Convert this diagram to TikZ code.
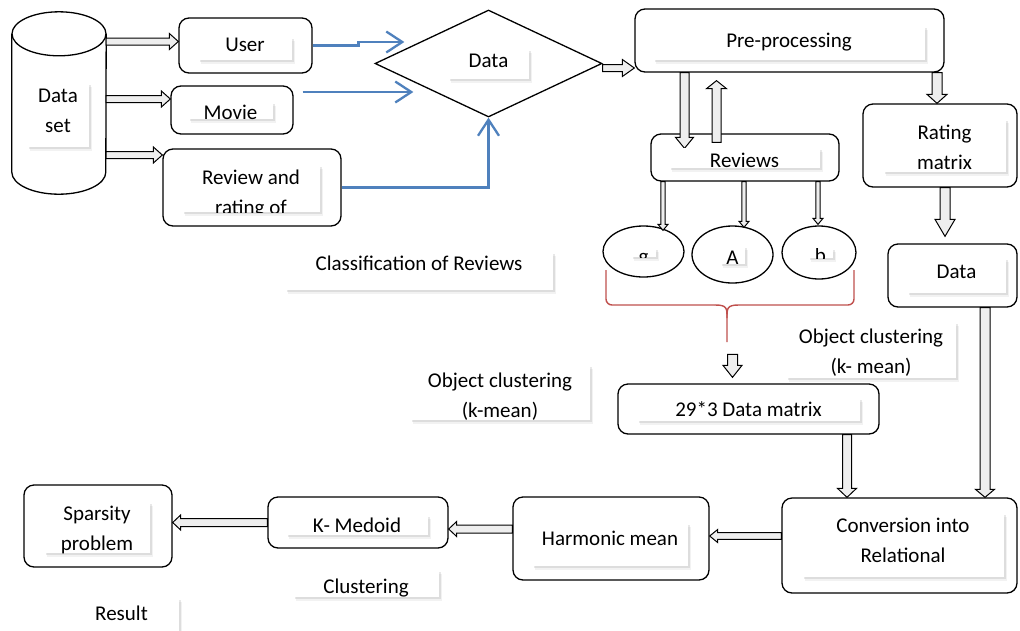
\documentclass[tikz,border=0pt]{standalone}
\usepackage{fontspec}
\setmainfont{Carlito}
\usetikzlibrary{shapes.geometric,shadows,calc,arrows.meta}
\definecolor{wblue}{RGB}{79,129,189}
\definecolor{wred}{RGB}{192,80,77}
\definecolor{afill}{RGB}{238,238,238}
\tikzset{
 box/.style={draw, line width=1.3pt, rounded corners=10pt, fill=white, inner sep=0pt},
 lbl/.style={fill=white, inner sep=0pt,
   drop shadow={shadow xshift=3pt, shadow yshift=-3.5pt, opacity=0.10},
   drop shadow={shadow xshift=1.5pt, shadow yshift=-2pt, opacity=0.18}},
 txt/.style={font=\fontsize{21}{30}\selectfont, inner sep=0pt},
 txtone/.style={txt, text height=14pt, text depth=4pt},
 txtm/.style={txt, align=center},
 blk/.style={draw, line width=1pt, fill=afill, line join=miter},
 bluearr/.style={draw=wblue, line width=2.3pt, -{Straight Barb[length=16pt, width=21pt, line width=2.3pt]}},
 redbrace/.style={draw=wred, line width=1.4pt},
 oval/.style={draw, ellipse, line width=1.3pt, inner sep=0pt, fill=white},
 cylstyle/.style={draw, line width=1.3pt, fill=white},
}
% block arrow: shaft half width, head half width, head length, start, end
\newcommand\barrow[5]{%
 \coordinate (baS) at (#4); \coordinate (baE) at (#5);
 \coordinate (baH) at ($(baE)!#3!(baS)$);
 \draw[blk] ($(baS)!#1!90:(baE)$) -- ($(baH)!#1!-90:(baS)$) -- ($(baH)!#2!-90:(baS)$) -- (baE) -- ($(baH)!#2!90:(baS)$) -- ($(baH)!#1!90:(baS)$) -- ($(baS)!#1!-90:(baE)$) -- cycle;}
% label box with shadow; text clipped to the box
\newcommand\lbox[7][txtone]{%
 \node[lbl, minimum width=#4, minimum height=#5, path picture={\node[#1] at ([yshift=#6]path picture bounding box.center) {#7};}] (#2) at (#3) {};}
\begin{document}
\begin{tikzpicture}[x=1pt,y=-1pt]
\fill[white] (0,0) rectangle (1020,630);
\useasboundingbox (0,0) rectangle (1020,630);

% cylinder
\node[minimum width=94pt, minimum height=182pt, inner sep=0pt] (dset) at (59,103) {};
\draw[cylstyle] ([yshift=-22pt]dset.north west) -- ([yshift=22pt]dset.south west) arc[start angle=180, end angle=360, x radius=47pt, y radius=22pt] -- ([yshift=-22pt]dset.north east);
\draw[cylstyle] ([yshift=-22pt]dset.north) ellipse [x radius=47pt, y radius=22pt];

% boxes
\node[box, minimum width=133pt, minimum height=55pt] (user) at (245.5,45.5) {};
\node[box, minimum width=122pt, minimum height=48pt] (movie) at (232,110) {};
\node[box, minimum width=178pt, minimum height=77pt] (review) at (252,187.5) {};
\node[draw, diamond, line width=1.3pt, minimum width=227pt, minimum height=107pt, inner sep=0pt, fill=white] (dia) at (488.5,63.5) {};
\node[box, minimum width=309pt, minimum height=63pt] (pre) at (789.5,40.5) {};
\node[box, minimum width=188pt, minimum height=47pt] (reviews) at (745,157.5) {};
\node[box, minimum width=154pt, minimum height=83pt] (rating) at (940,145.5) {};
\node[box, minimum width=129pt, minimum height=63pt] (data2) at (952.5,275.5) {};
\node[box, minimum width=261pt, minimum height=50pt] (dm) at (748.5,409) {};
\node[box, minimum width=235pt, minimum height=95pt] (conv) at (899.5,545.5) {};
\node[box, minimum width=196pt, minimum height=83pt] (harm) at (611,538.5) {};
\node[box, minimum width=180pt, minimum height=51pt] (kmed) at (358,522.5) {};
\node[box, minimum width=148pt, minimum height=82pt] (spars) at (98,526) {};
\node[oval, minimum width=81pt, minimum height=51pt] (g) at (643.5,251.5) {};
\node[oval, minimum width=81pt, minimum height=57pt] (A) at (732.5,254.5) {};
\node[oval, minimum width=74pt, minimum height=53pt] (b) at (819,252.5) {};

% block arrows
\coordinate (t1) at ([yshift=4pt]user.west);
\barrow{3.5pt}{8pt}{9pt}{dset.east|-t1}{t1}
\coordinate (t2) at ([yshift=11pt]movie.west);
\barrow{3.5pt}{8pt}{9pt}{dset.east|-t2}{t2}
\coordinate (t3) at ([yshift=32.5pt]review.west);
\barrow{3.5pt}{8pt}{9pt}{dset.east|-t3}{t3}
\coordinate (t4) at ([yshift=-27.5pt]pre.west);
\barrow{3.5pt}{8.5pt}{12pt}{dia.east|-t4}{t4}
\coordinate (s5) at ([xshift=-105pt]pre.south);
\barrow{4.5pt}{9pt}{11pt}{s5}{$(s5|-reviews.north)+(0,15)$}
\coordinate (s6) at ($(reviews.north)+(-28.5,9)$);
\barrow{4.5pt}{10pt}{8pt}{s6}{$(s6|-pre.south)+(0,8)$}
\coordinate (e7) at ($(rating.north)+(-3,0)$);
\barrow{5pt}{10pt}{9pt}{e7|-pre.south}{e7}
\coordinate (s8) at ($(rating.south)+(5,0)$);
\barrow{5pt}{10pt}{17pt}{s8}{$(s8|-data2.north)+(0,-7)$}
\coordinate (s9) at ($(reviews.south)+(-82,0)$);
\barrow{2.2pt}{5pt}{6pt}{s9}{$(s9|-g.north)+(0,5)$}
\coordinate (s10) at ($(reviews.south)+(-1,0)$);
\barrow{2.2pt}{5pt}{6pt}{s10}{$(s10|-A.north)+(0,2)$}
\coordinate (s11) at ($(reviews.south)+(73,0)$);
\barrow{2.2pt}{5pt}{6pt}{s11}{$(s11|-b.north)+(0,-1)$}
\coordinate (e12) at ($(dm.north)+(-16,-6)$);
\barrow{5pt}{9.5pt}{12pt}{$(e12)+(0,-23)$}{e12}
\coordinate (s13) at ($(dm.south)+(98.5,0)$);
\barrow{4.5pt}{9.5pt}{9pt}{s13}{s13|-conv.north}
\coordinate (s14) at ($(data2.south)+(32.5,0)$);
\barrow{5pt}{9.5pt}{8pt}{s14}{s14|-conv.north}
\coordinate (s15) at ($(conv.west)+(0,-9.5)$);
\barrow{3.3pt}{6.5pt}{8pt}{s15}{s15-|harm.east}
\coordinate (s16) at ($(harm.west)+(0,-9.5)$);
\barrow{4pt}{7.5pt}{8pt}{s16}{s16-|kmed.east}
\barrow{4pt}{7.5pt}{8pt}{kmed.west}{kmed.west-|spars.east}

% blue arrows
\coordinate (bt1) at ($(dia.west)+(30,-21.5)$);
\coordinate (bm1) at ($(user.east)!0.5!(bt1)$);
\draw[bluearr] (user.east) -- (user.east -| bm1) -- (bm1 |- bt1) -- (bt1);
\coordinate (bs2) at ($(movie.east)+(9,-18)$);
\coordinate (bt2) at ($(dia.west)+(39,28.5)$);
\draw[bluearr] (bs2) -- (bt2);
\draw[bluearr] (review.east) -| (dia.south);

% red brace
\draw[redbrace, rounded corners=6pt] (606,270) -- (606,305) -- (715,305);
\draw[redbrace] (715,305) .. controls (727,305) and (727,308) .. (727,318) -- (727,342);
\draw[redbrace, rounded corners=6pt] (854,270) -- (854,305) -- (739,305);
\draw[redbrace] (739,305) .. controls (727,305) and (727,308) .. (727,318);

% labels
\lbox[txtm]{dsL}{58,115}{62pt}{64pt}{4pt}{Data\\set}
\lbox{userL}{245,48.5}{94pt}{23pt}{2.5pt}{User}
\lbox{movieL}{230.5,110.5}{85pt}{17pt}{-3.5pt}{Movie}
\lbox[txtm]{revL}{251,188.5}{138pt}{47pt}{-5.5pt}{Review and\\rating of}
\lbox{diaL}{488.5,64}{81pt}{30pt}{2pt}{Data}
\lbox{preL}{789,43}{272pt}{34pt}{1pt}{Pre-processing}
\lbox{revsL}{744.5,158}{151pt}{20pt}{-4pt}{Reviews}
\lbox{gL}{643.5,252.5}{25pt}{9pt}{-5.5pt}{g}
\lbox{AL}{732.5,255}{25pt}{18pt}{-4pt}{A}
\lbox{bL}{820.5,253}{25pt}{10pt}{-4.5pt}{b}
\lbox[txtm]{ratL}{944.5,145.5}{123pt}{53pt}{-2.25pt}{Rating\\matrix}
\lbox{data2L}{956.5,275.5}{99pt}{35pt}{2.5pt}{Data}
\lbox{clsL}{419,271}{268pt}{38pt}{6pt}{Classification of Reviews}
\lbox[txtm]{ocR}{871,350}{170pt}{56pt}{-3pt}{Object clustering\\(k- mean)}
\lbox[txtm]{ocL}{500,392.5}{180pt}{55pt}{-4.5pt}{Object clustering\\(k-mean)}
\lbox{dmL}{748.5,409.5}{223pt}{23pt}{-1.5pt}{29*3 Data matrix}
\lbox[txtm]{convL}{903,545}{202pt}{64pt}{4.25pt}{Conversion into\\Relational}
\lbox{harmL}{610,544.5}{156pt}{43pt}{4.5pt}{Harmonic mean}
\lbox{kmedL}{357,525}{142pt}{20pt}{-2pt}{K- Medoid}
\lbox[txtm]{sparsL}{97,527.5}{106pt}{51pt}{-2.5pt}{Sparsity\\problem}
\lbox{clusL}{366,583.5}{146pt}{27pt}{-4.5pt}{Clustering}
\lbox{resL}{121.5,615}{115pt}{34pt}{0pt}{Result}
\end{tikzpicture}
\end{document}
